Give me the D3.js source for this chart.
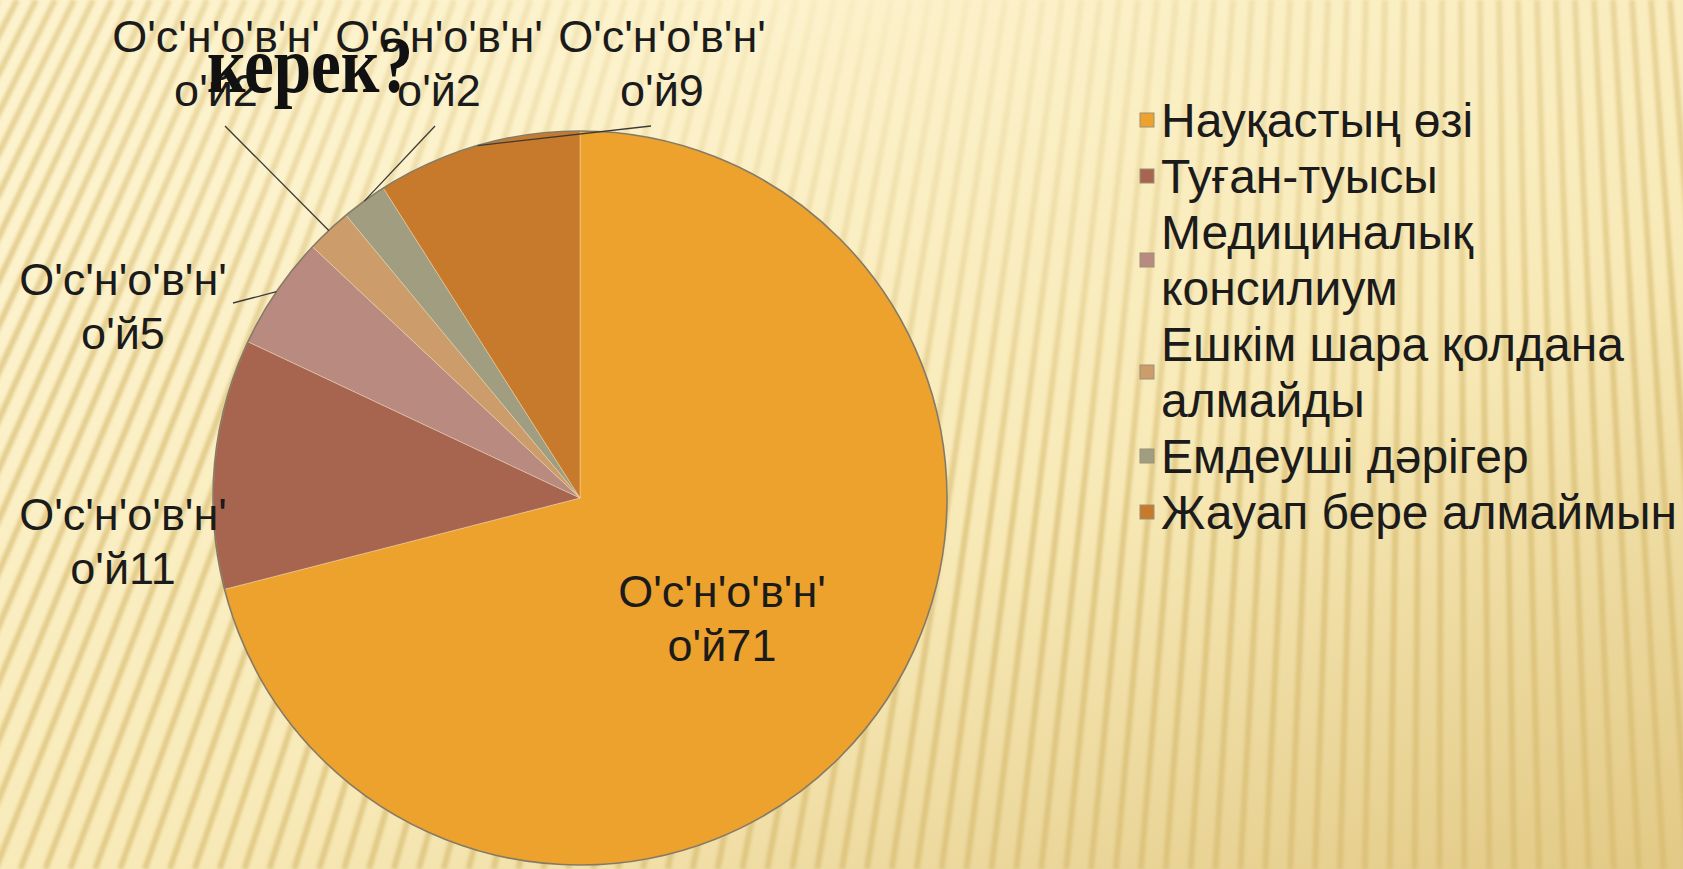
<!DOCTYPE html>
<html lang="kk">
<head>
<meta charset="UTF-8">
<script src="https://cdn.jsdelivr.net/npm/d3@7"></script>
<style>
  body { margin: 0; overflow: hidden; background: #fbefc6; }
  svg { display: block; }
  .lbl { font: 45px "Liberation Sans", Arial, sans-serif; fill: #1b1b1b; }
  .leg { font: 48px "Liberation Sans", Arial, sans-serif; fill: #1b1b1b; }
  .title { font: bold 80px "Liberation Serif", "Times New Roman", serif; fill: #111; }
  .leader { stroke: #3a3a3a; stroke-width: 1.3; fill: none; }
</style>
</head>
<body>
<script>
// chart data
var categories = ["Науқастың өзі", "Туған-туысы", "Медициналық консилиум",
                  "Ешкім шара қолдана алмайды", "Емдеуші дәрігер", "Жауап бере алмаймын"];
var values = [71, 11, 5, 2, 2, 9];
var colors = ["#eda22e", "#a7654f", "#b98a80", "#cc9d6a", "#a09d80", "#c77a2b"];
// legend text as it wraps in the picture
var legendLines = [["Науқастың өзі"], ["Туған-туысы"], ["Медициналық", "консилиум"],
                   ["Ешкім шара қолдана", "алмайды"], ["Емдеуші дәрігер"], ["Жауап бере алмаймын"]];
// data label text (broken encoding, kept as shown)
var labelHead = "О'с'н'о'в'н'";
var labelPrefix = "о'й";
var titleTail = "керек?";

var W = 1683, H = 869;
var cx = 580, cy = 498, radius = 367;

// label placement relative to the pie centre: [x centre, first baseline]
var labelLayout = [[142, 109], [-457, 32], [-457, -203], [-364, -446], [-141, -446], [82, -446]];
// leader: [dx from label centre, dy from first baseline, position inside slice]
var leaderLayout = [null, null, [110, 8, 0.5], [9, 74, 0.5], [-4, 74, 0.5], [-11, 74, 0.5]];

var svg = d3.select("body").append("svg").attr("width", W).attr("height", H);
var defs = svg.append("defs");

// ---- background ----
var bg = defs.append("linearGradient").attr("id", "bgGrad")
  .attr("x1", "0.3").attr("y1", "0.1").attr("x2", "1").attr("y2", "1");
bg.append("stop").attr("offset", "0").attr("stop-color", "#fcf2cc");
bg.append("stop").attr("offset", "0.5").attr("stop-color", "#f8eab8");
bg.append("stop").attr("offset", "1").attr("stop-color", "#e2c985");
svg.append("rect").attr("width", W).attr("height", H).attr("fill", "url(#bgGrad)");

var mg = defs.append("radialGradient").attr("id", "maskGrad")
  .attr("cx", "0.52").attr("cy", "0.0").attr("r", "0.6");
mg.append("stop").attr("offset", "0").attr("stop-color", "#1a1a1a");
mg.append("stop").attr("offset", "0.55").attr("stop-color", "#8a8a8a");
mg.append("stop").attr("offset", "1").attr("stop-color", "#fff");
defs.append("mask").attr("id", "stripeMask")
  .append("rect").attr("width", W).attr("height", H).attr("fill", "url(#maskGrad)");
defs.append("filter").attr("id", "soft")
  .append("feGaussianBlur").attr("stdDeviation", 1.8);

var fan = { x: 1450, y: -2800 };
var stripes = svg.append("g").attr("filter", "url(#soft)").attr("mask", "url(#stripeMask)");
d3.range(-40, 1760, 19).forEach(function(x0) {
  var x1 = x0 + (x0 - fan.x) / (-fan.y) * H;
  stripes.append("line")
    .attr("x1", x0).attr("y1", 0).attr("x2", x1).attr("y2", H)
    .attr("stroke", "#d6b869").attr("stroke-width", 6).attr("stroke-opacity", 0.6);
});

// ---- pie ----
var pie = d3.pie().sort(null).value(function(d) { return d; });
var arcs = pie(values);
var arc = d3.arc().innerRadius(0).outerRadius(radius);
var g = svg.append("g").attr("transform", "translate(" + cx + "," + cy + ")");

g.selectAll("path.slice").data(arcs).enter().append("path")
  .attr("class", "slice")
  .attr("d", arc)
  .attr("fill", function(d, i) { return colors[i]; })
  .attr("stroke", "rgba(255,240,215,0.35)")
  .attr("stroke-width", 1);
g.append("circle").attr("r", radius).attr("fill", "none")
  .attr("stroke", "#857a63").attr("stroke-width", 1.6);

// ---- title fragment ----
svg.append("text").attr("class", "title").attr("x", 207).attr("y", 92)
  .attr("textLength", 206).attr("lengthAdjust", "spacingAndGlyphs").text(titleTail);

// ---- leaders ----
arcs.forEach(function(d, i) {
  var ld = leaderLayout[i];
  if (!ld) return;
  var lp = labelLayout[i];
  var a = d.startAngle + (d.endAngle - d.startAngle) * ld[2];
  g.append("line").attr("class", "leader")
    .attr("x1", lp[0] + ld[0]).attr("y1", lp[1] + ld[1])
    .attr("x2", Math.sin(a) * radius).attr("y2", -Math.cos(a) * radius);
});

// ---- data labels ----
arcs.forEach(function(d, i) {
  var lp = labelLayout[i];
  var t = g.append("text").attr("class", "lbl").attr("text-anchor", "middle");
  t.append("tspan").attr("x", lp[0]).attr("y", lp[1]).text(labelHead);
  t.append("tspan").attr("x", lp[0]).attr("y", lp[1] + 54).text(labelPrefix + d.data);
});

// ---- legend ----
var legX = 1140, legTextX = 1161, legTop = 137, legStep = 56, capH = 34, box = 14;
var row = 0;
legendLines.forEach(function(lines, i) {
  var first = legTop + row * legStep;
  var last = first + (lines.length - 1) * legStep;
  var mid = (first - capH + last) / 2;
  svg.append("rect").attr("x", legX).attr("y", mid - box / 2)
    .attr("width", box).attr("height", box)
    .attr("fill", colors[i]).attr("stroke", "#9a9078").attr("stroke-width", 1);
  var t = svg.append("text").attr("class", "leg");
  lines.forEach(function(s, k) {
    t.append("tspan").attr("x", legTextX).attr("y", first + k * legStep).text(s);
  });
  row += lines.length;
});
</script>
</body>
</html>
